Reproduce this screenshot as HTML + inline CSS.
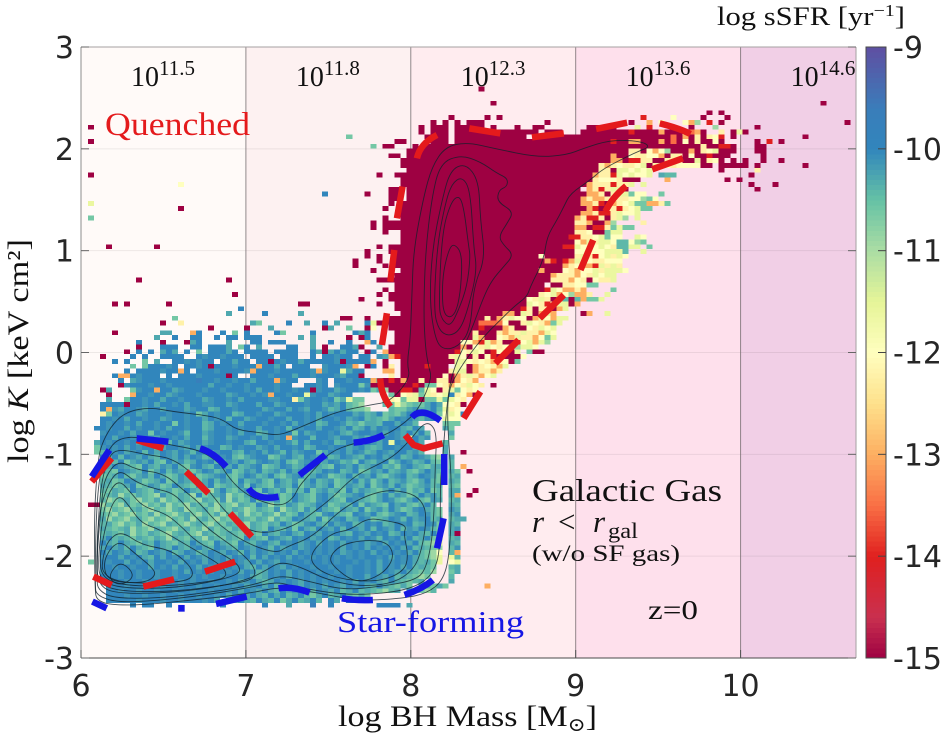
<!DOCTYPE html>
<html>
<head>
<meta charset="utf-8">
<title>Galactic gas entropy vs BH mass</title>
<style>
html,body{margin:0;padding:0;background:#fff;width:942px;height:739px;overflow:hidden}
svg{display:block;position:absolute;left:0;top:0}
.tick{font-family:"DejaVu Sans","Liberation Sans",sans-serif;font-size:30px;fill:#262626}
.tex{font-family:"Liberation Serif","DejaVu Serif",serif;fill:#111}
</style>
</head>
<body>
<svg id="chart" width="942" height="739" viewBox="0 0 942 739" xmlns="http://www.w3.org/2000/svg">
  <g id="bands"></g>
  <g id="grid"></g>
  <g id="heat" shape-rendering="crispEdges"></g>
  <g id="contours" fill="none" stroke="#10202a" stroke-width="0.9" stroke-opacity="0.78"></g>
  <g id="redDash" fill="none" stroke="#e41a1c" stroke-width="6.5" stroke-linejoin="round"></g>
  <g id="blueDash" fill="none" stroke="#1616e4" stroke-width="6.5" stroke-linejoin="round"></g>
  <g id="frame"></g>
  <g id="xticks"></g>
  <g id="yticks"></g>
  <g id="bandLabels"></g>
  <g id="colorbar"></g>

  <text class="tex" x="105" y="135" font-size="33" textLength="145" lengthAdjust="spacingAndGlyphs" style="fill:#e41a1c">Quenched</text>
  <text class="tex" x="337" y="632" font-size="31" textLength="187" lengthAdjust="spacingAndGlyphs" style="fill:#1616e4">Star-forming</text>
  <text class="tex" x="532" y="501" font-size="32" textLength="190" lengthAdjust="spacingAndGlyphs">Galactic Gas</text>
  <text class="tex" x="532" y="532" font-size="31" font-style="italic">r</text>
  <text class="tex" x="558" y="532" font-size="31">&lt;</text>
  <text class="tex" x="593" y="532" font-size="31" font-style="italic">r</text>
  <text class="tex" x="608" y="538" font-size="22" textLength="30" lengthAdjust="spacingAndGlyphs">gal</text>
  <text class="tex" x="532" y="561" font-size="23" textLength="148" lengthAdjust="spacingAndGlyphs">(w/o SF gas)</text>
  <text class="tex" x="648" y="619" font-size="27" textLength="50" lengthAdjust="spacingAndGlyphs">z=0</text>

  <text class="tex" x="338" y="726" font-size="30" textLength="259" lengthAdjust="spacingAndGlyphs">log BH Mass [M<tspan font-size="19" dy="5">⊙</tspan><tspan dy="-5">]</tspan></text>
  <text class="tex" transform="translate(28,463) rotate(-90)" font-size="30" textLength="224" lengthAdjust="spacingAndGlyphs">log <tspan font-style="italic">K</tspan> [keV cm²]</text>
  <text class="tex" x="717" y="25" font-size="26" textLength="188" lengthAdjust="spacingAndGlyphs">log sSFR [yr<tspan font-size="17" dy="-9">−1</tspan><tspan dy="9">]</tspan></text>
</svg>

<script>
// ---- axis data ----
const xTickValues = [6, 7, 8, 9, 10];
const yTickValues = [3, 2, 1, 0, -1, -2, -3];
const xDomain = [6, 10.7];
const yDomain = [-3, 3];
const bandEdges = [6, 7, 8, 9, 10, 10.7];
const bandExponents = ["11.5", "11.8", "12.3", "13.6", "14.6"];
const bandShades = ["#fffaf8", "#fdf1f1", "#ffecef", "#fee0ec", "#f1cfe6"];
const colorbarTicks = [-9, -10, -11, -12, -13, -14, -15];

// ---- colour scale ----
const scaleValues = [-15, -14.6, -14, -13.5, -13, -12.5, -12, -11.5, -11, -10.5, -10, -9.6, -9];
const scaleColors = ["#9e0142", "#c9304f", "#e0201f", "#f96f45", "#fdae61", "#fee08b", "#ffffbf", "#e6f598", "#abdda4", "#66c2a5", "#3186bc", "#3a7dba", "#5e4fa2"];

// ---- heatmap bins and values ----
const binStartX = 6.0425;
const binWidthX = 0.03642;
const binStartY = 2.612;
const binHeightY = 0.04694;
const levelKeys = ["q", "r", "s", "o", "y", "w", "l", "g", "h", "m", "t", "c", "b", "p"];
const levelValues = [-15, -14, -13.5, -13, -12.22, -12, -11.6, -10.9, -10.6, -10.42, -10.28, -10.12, -10, -9.7];
// each row: "startColumn + level letters" tokens, "*n" repeats a letter, "." is an empty bin
const heatRows = [
"65q","","","67q 122q","","103q 105q",
"60q 66q 68q 92r 97w 102q 106q",
"57q 59q 61q 63q*3 76q 90q 93o 95w 99w 100o 101g 103r 105q 126q",
"0q 55q 57q*2 59q 61q*5 67q 71q 74q*2 83q*5 91l 93r 100q 104g 111q",
"55q 57q*3 61q*14 76q*3 82q*8 90r 91q*4 95o 96q*3 99w 100s 101o 102q 105y 107q 108l 109q",
"43h 56q*4 61q*12 74q*22 96q 97s 98q 99o 100q 101y 102q 103y 104w 105r 107q 119q",
"0q 51q 52q 57q*3 61q*26 87r 88q*2 90o*2 92q*3 95o 96q 97s 98q 99w 100q 101y 102q*2 104w 105q 111q 113r 115q",
"47h 49q*2 54q 56q*46 102y 103q*2 105r*2 107q 111q*2",
"53q*37 90y*2 92q 93w 94o 95w 96g 97q*3 100o 101q 102y 103w 104l 105q*3 111q*2",
"50q*2 53q*34 87o 88q*2 90w 91y*2 93w*2 95o 96q 97y*2 99q 100w 101q*2 103r 104q*3 112q",
"52q*35 87o*2 89q 90r*2 92y*2 94q*2 96y*2 98w 99q*2 101l 102q 103y 104w 105q 107q 109q 112q 115q",
"52q*33 85y 86o 87y 88w 89y*2 91w 92l 93q 94y 95w*2 97y 98w*4 102q*2 105q*5 111q 119q",
"53q*32 85y*2 87q 88l*2 90w 91l 92w 93l 105q 111y",
"0q 48q 51q*33 84o 85y*2 87r 88l 89w 90l 91w*2 93l 95t 96m*2 110q",
"52q*32 84y 85w*3 88y 89q*3 96o 106q 108q",
"15w 52q*31 83o 84y*2 86y 87r 88y 89y 90l 92l 110q 114q",
"50q*2 53q*29 83o 84y 85r 86y 87l*2 89q 111q",
"39b 46q 50q*2 53q*30 83o*2 85y 86q 87y 88l*2 90h 91w*2 95h",
"50q*2 53q*29 82o 83y 84o*2 86y*4 90w*2 92g 93h 94w",
"0l 50q 52q*30 82o*2 84y 85r 86q 87o 88y 89w 90l 91h*2 93o*2 95y 96h",
"15q 49q 52q*31 83o 84r 85q 86y*2 88r 89y 90w 91l 92h*2",
"52q*30 82o*2 84y 85r*2 87y 88l 89w*2 91l",
"0h 49q 52q*29 81o 82y 83r*2 85y 86q 87y 88l 89g 91l",
"47q 49q*32 81y*2 83o 84q*2 86o 87g 92y",
"47q 49q*32 81o*2 83q 84r*2 86y 87h 88l*2 89h 90h",
"49q 52q*29 81y 82y 83w 84q*2 86h 87l*2",
"52q*28 80r*2 82y*2 84w 85l 86h 87w*2 91l 92w",
"52q*28 80q 81w 82o 83l 84y 85l*2 87w 88m*2 90w 91g 92h",
"3q 11q 48q 50q*29 79r*2 81l 82w*3 85l 86w 87y 88m*2 90l*2 93h",
"46q 50q*29 79q*2 81w*5 86l*2 88l 89m 92l",
"46q 48q 51q*24 75w 76q*4 80q 81y 82l 83y 84r 85w 86l 87y 88l 89w",
"44q 48q 51q*25 76o 77r 78q 79r 80o 81l 82y 83w 84y*2 86w*3",
"44q 49q 51q*28 79o 80y 81w 82o*2 84r 85l 86y 87l 88y",
"47q 52q*23 75o 76q*3 79w 80y 81o 82w*2 84l 85y 86l*3 89w",
"51q*26 77o 78y*3 81o 82w 83y 84l 85w 86l*2",
"8q 23q 48q*29 77y*3 80o 81w 82y 83q 84w 85y 86y 87l",
"51q*24 75q 77q*2 79y 80y 81w 82w 83h*2",
"49q 51q*25 76r 77l 78w 79o*2 81y 82o 87h",
"24q 48q 50q*25 75y 76w 77l 78o 79w 80g 81o*2 83y 86l",
"45q 50q*23 73w 74y 75l 76y 77q 78o 79m 80q 81m 82o 83h*2 85l",
"4q 6q 13q 35q 36q 48q 51q*22 73l 74w 75y 76r 77y 78l 79l 80q 81o",
"25b 51q*21 72r 73y 74q 75y*2 77q 78o 79l",
"23t 29b 35t 52q*17 69o*2 71q 72l 73y 74q 75o 76l 77o 82q 83o 86l",
"14h 42q*2 46q 50q*16 66y 67q 68o 69y 70l 71w*2 73q 74o 75l 76w 77o 78l*2",
"12q 15y 27t 28h 33b 36t 39b 41t 46b 47l 48q 50q*15 65s*4 69w 70q*2 72y 73l 74w 75y 76o 77h 78l",
"20q 26q 30t 39q 40t 43h 46q 47w 50q*15 65r 66q*3 69o 70y 71q*2 73w 74y 75l 76w 77l",
"4q 12t*2 17o 18b 22b 24h 26b 31b 32h 37b 44b 45t 46b 51q*13 64y 65q*3 68y 69o 70y*2 72l 73y*2 75o 76l 77w",
"11t 14b 17b*2 21b 23b*2 26b*3 35t 37t 43q 45q 46b 51q*13 64l 65o 66q 67q 68w 69y 70o 71l 72y*2 74o 75w 76h 77l",
"8b 12q 16q 17t 18b 23t 27b*2 30b*3 37t 40b 43b 46o 47b 51q*11 62w 63w 64o 65r 66l 67o 68y 69q*2 71r 72w 73l 74o 75l 76g",
"8q 12b*3 17b*2 20b*3 23t 25h 26b 28t 33b*2 37t 39q 42b*2 44t 45q 48t 50q*11 61q 62o 63q 64w 65y 66l 67w 68y 69w*2 71g 72l*2 74w",
"6q 8b 10b 12t 13b 14t 16b 18h 20b*3 23t 24b 26b*4 31b*4 37b 38t 39q 40t 41b 42t 43b*2 46q 47b 49o 50q*11 61r 62w 63y 64l 65w 66q 67r 68w 69l 70q 71l 73h 74q*2",
"2q 7b.b..bbbb..bcbbcbbb.bbbb.bbb..b.bbcbb.bb.ct 50o 51r 52q*8 60y 61l 62w 63q 64y 65q 66w 67r 68q*4 72w",
"4b.b..h.t..bbcbcbb.bbtbb.bbbbcbbtbbbbbcbbbbbb 30q 42q 47o 49q 52q*8 60q 61l*2 63w 64y 65w 66y 67o 68y 69w 70q 71h",
"7h.hbbbcb.bbcbqbbbcbbbcbbtb.bbb..cbbbcb.bb 28o 44o 46q 49q 50y 52q*7 56r 59q 61l 62w 63q 64o 65y 66w 67y 68o 69l",
"6b.bbbbcbbbb.bbbcbbbbctbbbcbbbbbcbcbbbtbb 15o 27o 38o 42l 49o 50o 52q*8 60y 61l*2 63q 64o 65y*2 67o 68y",
"4b..bcbbb.b.bbbcbbbbcb..bbbcbbbtbbcbbbctbb 5o 6o 23q 45q 50y 52q*7 59w 60q 61o 62y 63l 64y 65o 66w 67l",
"5b.tcbbbcbbbbbpbbcbbcbbtbbbbcbb...cb.bbcbbbbbb 31o 47o 48t 49q 50r 51q 52o 53q*2 55y 56q*2 58y*2 60q 61o 62w 63y 64o",
"5qcbbbcbbcbbbbbbtbbcbbcbbbbcbb..bbcb.cbbbhcbb 47q*5 52q*2 54r 55q 56h 57h 58w 59y 60o 61w 62y 63l 64w 65y 67q",
"2qt...hcbbobbtcbbbcbbcbbbcbtbbcbbcbbqcbbtcbbcbhtg 49g 50q 51q 52r*2 54q 55m 56l 57w 58q 59y 60l 61h 62w 63y 64w",
"3q...obbcbbtcbbbcbbbbtcbbcbcbbbcbblcbbtcbb 30o 50h 51q 52w 53y 54l 55h 56l 57y 58w 59l 60b 61y 62w 63o 64q",
"3t..hbbcbbtbbcbbbtcbbcbtbbbbccbbyhcbbcbhtlhh 49h 50y 51w 52h 53l 54l 55q 56h 57h 58l 59h 60l 61w 62y",
"2bbbbqbbcbtbbcbtbbccbbtcbbbtbbtcbbbcbbtctbmhg 49m 50h 51l 52g 53h 54m 55h 56t 57b 58t 59w 60w 61y 62q",
"2boctbbctbbtbbbtcbbmtbbcbbbbtcbbtbctbbcmtbmhhg 50m 51h 52h 53t 54c 55m 56t 57b 58m 59l 60y 61w",
"2yhbcbbtcbbbcbbcbhtbcbbmtbbcbbtcbbbcbtbcbbbtcmtbhmhtbtcbb 58h 59w 60l 61w 62b",
"2bbcbtbbcbbtcbbcbbtbcbmbbtcbbcbbtbbcbtbbcbtcbmtmhtbcbtmcb 59l 60w 61w",
"2bcbbcbtbbcbbhbcbbmtbcbbtbbbcbbcbtbcbmtbbcmthttmbbtbcm 59h 60h 61h",
"1bbcbbtbcbbcbtbbcbbmtbbcbcbbtbbcbmbcbbtbbctbmtbtbcbbtmbt 59t 60h",
"2cbbcbtbbhbcbbcmbbtcbbcbtbbmtbcbbhbtcbbcbtmcbbcbtbctbtbm 60t",
"2bbtbbcbbctbbcbtbbmcbbtcbbcbtbcbocbbmbbctbbtcmbtbbctlbtc 60h",
"1tbcbbcbtbcbbmbtcbbtcbbcbbtmbbcbbcmbtbbcbmtbcmbctblbcbbt 59m",
"1hcbcbtbcbbmtbbctbtcbbmtbcbbtcbtbbcbmtbbcbbtcbtmtbbcbbtm 59t",
"1hmbcbtcbmbtbctbcmbbtcbbtmbcbtbcmbtcbbhtbcbtbcmtbctbbtcm 59t 62q",
"2btbmbctbtmbctbtbcmtbcbmhtcbbhmcbtmbctbmtbctmbcbtcbmtbcthg 60t",
"2tbmbhtctbmhbtcmtbcbmtctbtmcbctbmhtcbmtbcmthbtmcbhtbcmtbmh 60m",
"2mtbctmhbtmctbmhcbtmbctbmtcbhmtbcmtbctmhbctbmtcbmthcbtmhtt 60m 62o",
"2tmhbctmbhtbmctmhtbcmtbhmctbmtcmbtchmtbcbmtbhmctbmtcmhtbtm 60th 63q",
"2hmtbmhtcmbthmctbhmtcbmhtbcmtbmhtcbmtbchmtbmctbmhtcbmtbcth 60mt",
"2mthmbcthmtbhmctmhtbmcthbmtcmhbtmchtbmtchmtbmchtbmtcmhtbmh 60tm",
"2tmhmtbhmcthmbtmhctbhmtmchbtmhctmbhtcmtbhmctmbhtcmbthmtcmt 60mh",
"2mhtmhbtmhcmthmbtmhgtbmhtcmhbtmchtmbhtcmthbmctmhtbmchtmbhm 60tt 64q",
"2hmtgmhtmhgcmhtmgbhmtcgmhtbmhcthmbtmhcbthmtcbmhtbmcthmbtcm 60t 61o 63q",
"2mghmthgmhtgmhtmhgtmhcgthmbhmtchmbtmhcbtmhbctmhtbcmhtbmhct 60mt",
"0q*2 2gmhgthmgmhtgmhgtmhtgmhgtmhbtgmhcthmtbchmtmbhctmhbtcmhtbm 60tm",
"2hgmhgmthgmhgmtghmthgmhtmghtmhcgmthcmbtmhctmbhtcmbthmcbtmh 60ct",
"2mhgmhgmhtgmhgmthgmhtgmhtgmhtmgthmbtmhcbtmhbctbmhtcbmtbcmh 60tc",
"2tgmhgmthgmhgmhtgmthgmhgtmhtmgthmbctmbhtcbmtbchmtbcmbtcbmt 60mt 62t",
"2mthgmhtgmhgtmhgmthgmhtmhgtmhtmbthmcbtmbtcbmtbcbmtbcbmtbch 60tm",
"2tmhmtgmhgtmhgmthmgthmhtmgtmhbtmchbtmbctbmbctbmbctbmctbcmh 60tc",
"2mtmhtgmhtmhgmtmhgtmhmtmhtmhbtmcbtmbctbcbtmbctbcbmtbcbtmbh 60t 61q",
"2tbmtmhtmhtmgtmhtmgtmhtmhbtmhbctmbcbtcbmtbcbtbcmbcbtbmtbhg 60mt",
"2btmbtmhtmbtmhtmbtmhbtmhbtmcbtmbcbtcbtbcbtbcbtcbtbcbtbmhgl 60tm",
"2tbtcmbtmhbtmbtmcbtmbctmbctbcmbtcbtcbcbcbtbcbtbcbcbtbmtmhg 60mc",
"2btbctbmtbctbmtbcmtbctbcmbtbctbcbtbcbcbcbtcbcbtbcbcbtbmhgw 60m 61o",
"2cbbtbcbtmbtbcbtbctbcbtbcbmbtbcbtbcbcbcbcbcbcbbcbtbcbtmhgl 60lm",
"0h 2bcbbtbcbtbbcbtbcbtbcbtbctbtbctbcbbcbbcbcbbcbcbtbcbcbtmthl 60w 61l",
"2bbcbbcbbtbcbtbcbtbcbtbcbtmbtbctbcbbcbbcbbcbbcbtbcbtbmtmh 60mt",
"2cbbcbbcbbcbbcbtbcbcbbcbtbcmtbcbtbcbbcbbcbcbbcbtbctbtmhmg 60ht",
"2bbbcbbcbbcbbcbbcbcbbcbbcbtmtbcbtbcbcbbcbbcbbtbctbmtmhgh 60m",
"2bcbbcbbcbbcbbcbcbbcbbcbtcbtmtbcbctbcbcbbcbtbcbtmbtmhmt 60t",
"3cbbcbbcbbcbbcbbcbbcbbcbtcbtbmtbctbcbtbctbcbtmbtmhth 55tmhth 66o",
"3bbcbbcbbcbbcbbcbbcbbcbtbctbtmbtcbtmbctbmtbmtmhgmt 53bmhgm",
"3bbbcbbcbbcbbcbbcbbcbtbctbtmbtbmtbmhtbmtbmhth",
"3bbbbbcbbbcbbcbbbcbt.ctbtmbtmbhtbmtbm.bt.bt",
"7b 9b*2 13b 22b 29b 33t 37p 40b 48b*4 53t"
];

// ---- density contours (log BH mass, log K) ----
const contourLevel1 = [[6.085,-2.332],[6.081,-1.776],[6.085,-1.448],[6.105,-1.023],[6.136,-0.859],[6.196,-0.695],[6.277,-0.581],[6.419,-0.538],[6.56,-0.581],[6.783,-0.623],[6.864,-0.663],[6.945,-0.761],[7.086,-0.787],[7.188,-0.813],[7.268,-0.777],[7.41,-0.679],[7.552,-0.581],[7.754,-0.515],[7.876,-0.482],[7.997,-0.253],[7.977,-0.106],[7.997,0.123],[8.007,0.581],[8.017,1.007],[8.078,1.53],[8.128,1.825],[8.209,2.021],[8.341,2.064],[8.503,2.005],[8.766,1.917],[8.948,1.94],[9.049,2.005],[9.211,2.087],[9.393,2.077],[9.454,2.021],[9.373,1.972],[9.17,1.809],[9.089,1.694],[8.968,1.563],[8.928,1.432],[8.887,1.301],[8.826,1.138],[8.806,0.909],[8.725,0.647],[8.705,0.549],[8.624,0.45],[8.523,0.287],[8.442,0.156],[8.361,-0.008],[8.28,-0.204],[8.23,-0.368],[8.22,-0.662],[8.25,-1.285],[8.239,-1.939],[8.199,-2.234],[8.098,-2.365],[7.956,-2.414],[7.693,-2.44],[7.39,-2.348],[7.208,-2.3],[7.005,-2.371],[6.682,-2.43],[6.378,-2.479],[6.176,-2.479],[6.095,-2.43]];
const contourLevel2 = [[6.085,-2.299],[6.091,-1.612],[6.115,-1.154],[6.176,-0.925],[6.237,-0.843],[6.338,-0.826],[6.54,-0.908],[6.722,-0.957],[6.844,-1.088],[6.884,-1.203],[6.965,-1.35],[7.066,-1.448],[7.208,-1.514],[7.289,-1.432],[7.319,-1.317],[7.41,-1.154],[7.511,-0.974],[7.653,-0.892],[7.835,-0.826],[7.976,-0.679],[8.057,-0.532],[8.128,-0.25],[8.108,-0.139],[8.088,0.058],[8.078,0.385],[8.088,0.974],[8.128,1.53],[8.179,1.858],[8.3,1.94],[8.422,1.874],[8.523,1.76],[8.588,1.71],[8.584,1.629],[8.533,1.596],[8.523,1.481],[8.624,1.383],[8.584,1.269],[8.533,1.138],[8.563,1.056],[8.624,0.958],[8.563,0.843],[8.493,0.712],[8.442,0.549],[8.361,0.189],[8.29,-0.041],[8.24,-0.27],[8.216,-0.564],[8.189,-1.121],[8.179,-1.285],[8.179,-1.939],[8.138,-2.168],[8.037,-2.299],[7.855,-2.365],[7.592,-2.381],[7.289,-2.299],[7.188,-2.25],[7.005,-2.315],[6.682,-2.398],[6.378,-2.447],[6.196,-2.447],[6.095,-2.381]];
const contourLevel3 = [[6.095,-2.234],[6.105,-1.612],[6.125,-1.252],[6.176,-0.99],[6.247,-0.951],[6.398,-1.006],[6.56,-1.039],[6.722,-1.252],[6.803,-1.416],[6.884,-1.579],[7.005,-1.743],[7.127,-1.776],[7.289,-1.71],[7.43,-1.546],[7.531,-1.416],[7.653,-1.219],[7.774,-1.121],[7.895,-1.023],[7.997,-0.859],[8.067,-0.712],[8.118,-0.689],[8.158,-0.794],[8.148,-1.121],[8.138,-1.743],[8.098,-2.103],[8.037,-2.234],[7.815,-2.299],[7.592,-2.332],[7.39,-2.25],[7.208,-2.185],[7.086,-2.266],[6.884,-2.332],[6.479,-2.414],[6.196,-2.414],[6.105,-2.332]];
const contourLevel4 = [[6.091,-2.103],[6.125,-1.448],[6.146,-1.219],[6.227,-1.056],[6.338,-1.154],[6.5,-1.186],[6.621,-1.35],[6.722,-1.481],[6.844,-1.71],[7.026,-1.89],[7.188,-1.972],[7.248,-1.907],[7.41,-1.808],[7.592,-1.514],[7.815,-1.35],[7.976,-1.366],[8.067,-1.448],[8.098,-1.612],[8.067,-1.939],[8.017,-2.136],[7.895,-2.266],[7.693,-2.299],[7.491,-2.234],[7.329,-2.103],[7.208,-2.054],[7.127,-2.136],[7.005,-2.234],[6.783,-2.316],[6.479,-2.365],[6.216,-2.365],[6.115,-2.299]];
const contourLevel5 = [[6.093,-2.168],[6.103,-1.612],[6.164,-1.285],[6.235,-1.147],[6.326,-1.268],[6.437,-1.334],[6.568,-1.383],[6.67,-1.579],[6.791,-1.759],[6.953,-1.939],[7.054,-2.103],[7.054,-2.218],[6.953,-2.266],[6.581,-2.348],[6.237,-2.348],[6.105,-2.266]];
const contourLevel6 = [[6.103,-2.038],[6.133,-1.579],[6.174,-1.35],[6.235,-1.252],[6.305,-1.383],[6.376,-1.514],[6.508,-1.579],[6.589,-1.678],[6.71,-1.874],[6.852,-1.972],[6.973,-2.103],[6.945,-2.201],[6.581,-2.316],[6.237,-2.316],[6.115,-2.234]];
const contourLevel7 = [[6.113,-2.005],[6.144,-1.743],[6.184,-1.498],[6.235,-1.399],[6.295,-1.514],[6.366,-1.678],[6.487,-1.743],[6.69,-1.939],[6.852,-2.087],[6.892,-2.201],[6.791,-2.25],[6.487,-2.299],[6.237,-2.283],[6.125,-2.201]];
const contourLevel8 = [[6.133,-2.005],[6.164,-1.841],[6.245,-1.753],[6.366,-1.89],[6.548,-1.939],[6.67,-2.103],[6.68,-2.218],[6.568,-2.26],[6.245,-2.267],[6.125,-2.168]];
const contourLevel9 = [[6.133,-2.07],[6.184,-1.906],[6.245,-1.857],[6.326,-1.972],[6.427,-2.103],[6.457,-2.185],[6.386,-2.266],[6.164,-2.25]];
const contourLevel10 = [[6.174,-2.168],[6.235,-2.054],[6.305,-2.136],[6.315,-2.218],[6.245,-2.283],[6.184,-2.25]];
const contourRight1 = [[7.38,-1.988],[7.511,-1.776],[7.633,-1.743],[7.734,-1.628],[7.835,-1.645],[7.976,-1.694],[7.956,-1.776],[7.987,-2.005],[7.956,-2.152],[7.815,-2.25],[7.592,-2.234],[7.43,-2.136]];
const contourRight2 = [[7.501,-2.021],[7.572,-1.89],[7.714,-1.841],[7.855,-1.857],[7.9,-1.988],[7.855,-2.136],[7.754,-2.234],[7.653,-2.25],[7.542,-2.119]];
const contourUpper1 = [[8.114,0.483],[8.129,1.007],[8.189,1.498],[8.24,1.792],[8.331,1.858],[8.412,1.694],[8.422,1.301],[8.452,0.925],[8.381,0.647],[8.361,0.221],[8.29,0.058],[8.199,0.025],[8.149,0.123]];
const contourUpper2 = [[8.139,0.418],[8.159,1.04],[8.209,1.465],[8.25,1.661],[8.311,1.727],[8.361,1.596],[8.381,1.04],[8.402,0.81],[8.351,0.45],[8.3,0.221],[8.23,0.156],[8.169,0.221]];
const contourUpper3 = [[8.169,0.45],[8.189,1.17],[8.24,1.465],[8.29,1.547],[8.321,1.432],[8.351,1.04],[8.361,0.941],[8.341,0.647],[8.29,0.418],[8.24,0.254],[8.189,0.319]];
const contourUpper4 = [[8.199,0.81],[8.23,1.007],[8.26,1.072],[8.311,0.974],[8.305,0.647],[8.28,0.418],[8.24,0.336],[8.199,0.385],[8.189,0.581]];

// ---- dashed selection outlines (log BH mass, log K) ----
const redDashes = [
[[8.037,1.907],[8.078,2.038],[8.159,2.136]],[[7.916,1.318],[7.95,1.629]],[[7.876,0.696],[7.9,1.007]],[[7.825,0.074],[7.855,0.385]],
[[7.815,-0.253],[7.831,-0.401],[7.876,-0.531]],[[8.321,-0.646],[8.422,-0.384]],[[8.513,-0.106],[8.654,0.123]],[[8.782,0.336],[8.928,0.565]],
[[9.029,0.81],[9.106,1.105]],[[9.18,1.383],[9.231,1.514],[9.306,1.635]],[[9.464,1.799],[9.65,1.907]],[[8.355,2.201],[8.543,2.152]],
[[8.735,2.113],[8.928,2.152]],[[9.124,2.195],[9.312,2.257]],[[9.51,2.25],[9.615,2.201],[9.696,2.146]],
[[7.966,-0.81],[8.017,-0.908],[8.078,-0.941],[8.193,-0.892]],[[6.065,-1.268],[6.186,-1.039]],[[6.075,-2.201],[6.186,-2.283]],
[[6.378,-2.299],[6.564,-2.227]],[[6.752,-2.152],[6.935,-2.054]],[[6.904,-1.579],[7.036,-1.808]],[[6.637,-1.17],[6.773,-1.383]],[[6.338,-0.859],[6.5,-0.941]]
];
const blueDashes = [
[[6.069,-2.446],[6.156,-2.512]],[[6.609,-2.479],[6.609,-2.545]],[[6.819,-2.469],[7.005,-2.397]],[[7.198,-2.316],[7.289,-2.316],[7.386,-2.358]],
[[7.582,-2.414],[7.673,-2.43],[7.77,-2.43]],[[7.962,-2.381],[8.057,-2.316],[8.134,-2.234]],[[8.159,-1.923],[8.199,-1.628]],[[8.203,-1.301],[8.203,-0.997]],
[[8.007,-0.637],[8.078,-0.591],[8.179,-0.669]],[[7.653,-0.885],[7.754,-0.859],[7.835,-0.81]],[[7.325,-1.203],[7.481,-1.006]],
[[7.016,-1.334],[7.086,-1.416],[7.198,-1.416]],[[6.722,-0.941],[6.803,-1.006],[6.88,-1.121]],[[6.338,-0.843],[6.53,-0.876]],[[6.065,-1.219],[6.172,-0.957]]
];

// ---- axis functions ----
const plotLeft = 81, plotRight = 856, plotTop = 47, plotBottom = 658;
function xScale(v) { return plotLeft + (v - xDomain[0]) / (xDomain[1] - xDomain[0]) * (plotRight - plotLeft); }
function yScale(v) { return plotBottom - (v - yDomain[0]) / (yDomain[1] - yDomain[0]) * (plotBottom - plotTop); }
const cbTop = 47, cbBottom = 658, cbLeft = 866, cbRight = 886;
function cbScale(v) { return cbBottom - (v + 15) / 6 * (cbBottom - cbTop); }

function hexToRgb(h) { return [parseInt(h.slice(1, 3), 16), parseInt(h.slice(3, 5), 16), parseInt(h.slice(5, 7), 16)]; }
function colorOf(v) {
  if (v <= scaleValues[0]) return scaleColors[0];
  for (let i = 1; i < scaleValues.length; i++) {
    if (v <= scaleValues[i]) {
      const t = (v - scaleValues[i - 1]) / (scaleValues[i] - scaleValues[i - 1]);
      const a = hexToRgb(scaleColors[i - 1]), b = hexToRgb(scaleColors[i]);
      return "rgb(" + a.map(function (c, k) { return Math.round(c + (b[k] - c) * t); }).join(",") + ")";
    }
  }
  return scaleColors[scaleColors.length - 1];
}
const NS = "http://www.w3.org/2000/svg";
function make(tag, parentId, attrs, text) {
  const e = document.createElementNS(NS, tag);
  for (const k in attrs) e.setAttribute(k, attrs[k]);
  if (text !== undefined) e.textContent = text;
  document.getElementById(parentId).appendChild(e);
  return e;
}

// bands + vertical dividers
bandShades.forEach(function (shade, i) {
  const el = make("rect", "bands", { x: xScale(bandEdges[i]), y: plotTop, width: xScale(bandEdges[i + 1]) - xScale(bandEdges[i]), height: plotBottom - plotTop, fill: shade });
  
  
});
yTickValues.slice(1, -1).forEach(function (v) {
  const el = make("line", "grid", { x1: plotLeft, x2: plotRight, y1: yScale(v), y2: yScale(v), stroke: "#000", "stroke-opacity": "0.07", "stroke-width": "1" });
  
  
});
xTickValues.slice(1).forEach(function (v) {
  const el = make("line", "grid", { x1: xScale(v), x2: xScale(v), y1: plotTop, y2: plotBottom, stroke: "#6e6468", "stroke-opacity": "0.75", "stroke-width": "1" });
  
  
});

// heatmap cells
const cellTable = {};
heatRows.forEach(function (rowText, row) {
  rowText.split(" ").forEach(function (token) {
    const m = token.match(/^(\d+)([a-z.]+)(?:\*(\d+))?$/);
    if (!m) return;
    const start = +m[1];
    const chars = m[3] ? m[2].repeat(+m[3]) : m[2];
    for (let i = 0; i < chars.length; i++) {
      cellTable[row + ":" + (start + i)] = chars[i];
    }
  });
});
Object.keys(cellTable).forEach(function (key) {
  const ch = cellTable[key];
  const idx = levelKeys.indexOf(ch);
  if (idx < 0) return;
  const parts = key.split(":");
  const row = +parts[0], col = +parts[1];
  const x0 = xScale(binStartX + col * binWidthX), x1 = xScale(binStartX + (col + 1) * binWidthX);
  const y0 = yScale(binStartY - row * binHeightY), y1 = yScale(binStartY - (row + 1) * binHeightY);
  const el = make("rect", "heat", { x: x0.toFixed(2), y: y0.toFixed(2), width: (x1 - x0).toFixed(2), height: (y1 - y0).toFixed(2), fill: colorOf(levelValues[idx]) });
  
  
});

// smoothed closed contours
function closedPath(pts) {
  const p = pts.map(function (q) { return [xScale(q[0]), yScale(q[1])]; });
  const n = p.length;
  let d = "M" + ((p[n - 1][0] + p[0][0]) / 2).toFixed(1) + " " + ((p[n - 1][1] + p[0][1]) / 2).toFixed(1);
  for (let i = 0; i < n; i++) {
    const b = p[(i + 1) % n];
    d += "Q" + p[i][0].toFixed(1) + " " + p[i][1].toFixed(1) + " " + ((p[i][0] + b[0]) / 2).toFixed(1) + " " + ((p[i][1] + b[1]) / 2).toFixed(1);
  }
  return d + "Z";
}
[contourLevel1, contourLevel2, contourLevel3, contourLevel4, contourLevel5, contourLevel6, contourLevel7, contourLevel8, contourLevel9, contourLevel10, contourRight1, contourRight2, contourUpper1, contourUpper2, contourUpper3, contourUpper4].forEach(function (c) {
  const el = make("path", "contours", { d: closedPath(c) });
  
  
});

// dashes
function openPath(pts) {
  const p = pts.map(function (q) { return [xScale(q[0]), yScale(q[1])]; });
  if (p.length === 3) {
    const cx = 2 * p[1][0] - (p[0][0] + p[2][0]) / 2, cy = 2 * p[1][1] - (p[0][1] + p[2][1]) / 2;
    return "M" + p[0].join(" ") + "Q" + cx + " " + cy + " " + p[2].join(" ");
  }
  return "M" + p.map(function (q) { return q.join(" "); }).join("L");
}
redDashes.forEach(function (d) {
  const el = make("path", "redDash", { d: openPath(d) });
  
  
});
blueDashes.forEach(function (d) {
  const el = make("path", "blueDash", { d: openPath(d) });
  
  
});

// frame
const frameSides = [[plotLeft, plotTop, plotLeft, plotBottom, "#8c8c8c"], [plotLeft, plotTop, plotRight, plotTop, "#a5a0a2"], [plotRight, plotTop, plotRight, plotBottom, "#a5a0a2"], [plotLeft, plotBottom, plotRight, plotBottom, "#4a4a4a"]];
frameSides.forEach(function (s) {
  const el = make("line", "frame", { x1: s[0], y1: s[1], x2: s[2], y2: s[3], stroke: s[4], "stroke-width": "1" });
  
  
});

// ticks
xTickValues.forEach(function (v) {
  const mark = make("line", "xticks", { x1: xScale(v), x2: xScale(v), y1: plotBottom, y2: plotBottom - 8, stroke: "#555", "stroke-width": "1" });
  
  
  const lab = make("text", "xticks", { class: "tick", x: xScale(v), y: 696, "text-anchor": "middle" }, String(v));
  
  
});
yTickValues.forEach(function (v) {
  const mark = make("line", "yticks", { x1: plotLeft, x2: plotLeft + 8, y1: yScale(v), y2: yScale(v), stroke: "#666", "stroke-width": "1" });
  
  
  const rmark = make("line", "yticks", { x1: plotRight, x2: plotRight - 8, y1: yScale(v), y2: yScale(v), stroke: "#666", "stroke-width": "1" });
  
  
  const lab = make("text", "yticks", { class: "tick", x: 74, y: yScale(v) + 11, "text-anchor": "end" }, String(v));
  
  
});

// halo mass labels
bandExponents.forEach(function (exp, i) {
  const el = make("text", "bandLabels", { class: "tex", x: xScale(bandEdges[i]) + 50, y: 86, "font-size": "28" });
  
  
  const base = document.createElementNS(NS, "tspan");
  base.textContent = "10";
  el.appendChild(base);
  const sup = document.createElementNS(NS, "tspan");
  sup.setAttribute("font-size", "21");
  sup.setAttribute("dy", "-11");
  sup.textContent = exp;
  el.appendChild(sup);
});

// colorbar
for (let v = -15; v < -9; v += 0.05) {
  const el = make("rect", "colorbar", { x: cbLeft, y: cbScale(v + 0.05).toFixed(2), width: cbRight - cbLeft, height: (cbScale(v) - cbScale(v + 0.05) + 0.6).toFixed(2), fill: colorOf(v + 0.025), "shape-rendering": "crispEdges" });
  
  
}
const cbOutline = make("rect", "colorbar", { x: cbLeft, y: cbTop, width: cbRight - cbLeft, height: cbBottom - cbTop, fill: "none", stroke: "#4a4a4a", "stroke-width": "1" });


colorbarTicks.forEach(function (v) {
  const mark = make("line", "colorbar", { x1: cbRight - 8, x2: cbRight, y1: cbScale(v), y2: cbScale(v), stroke: "#444", "stroke-width": "1" });
  
  
  const lab = make("text", "colorbar", { class: "tick", x: 893, y: cbScale(v) + 11 }, String(v));
  
  
});
</script>
</body>
</html>
